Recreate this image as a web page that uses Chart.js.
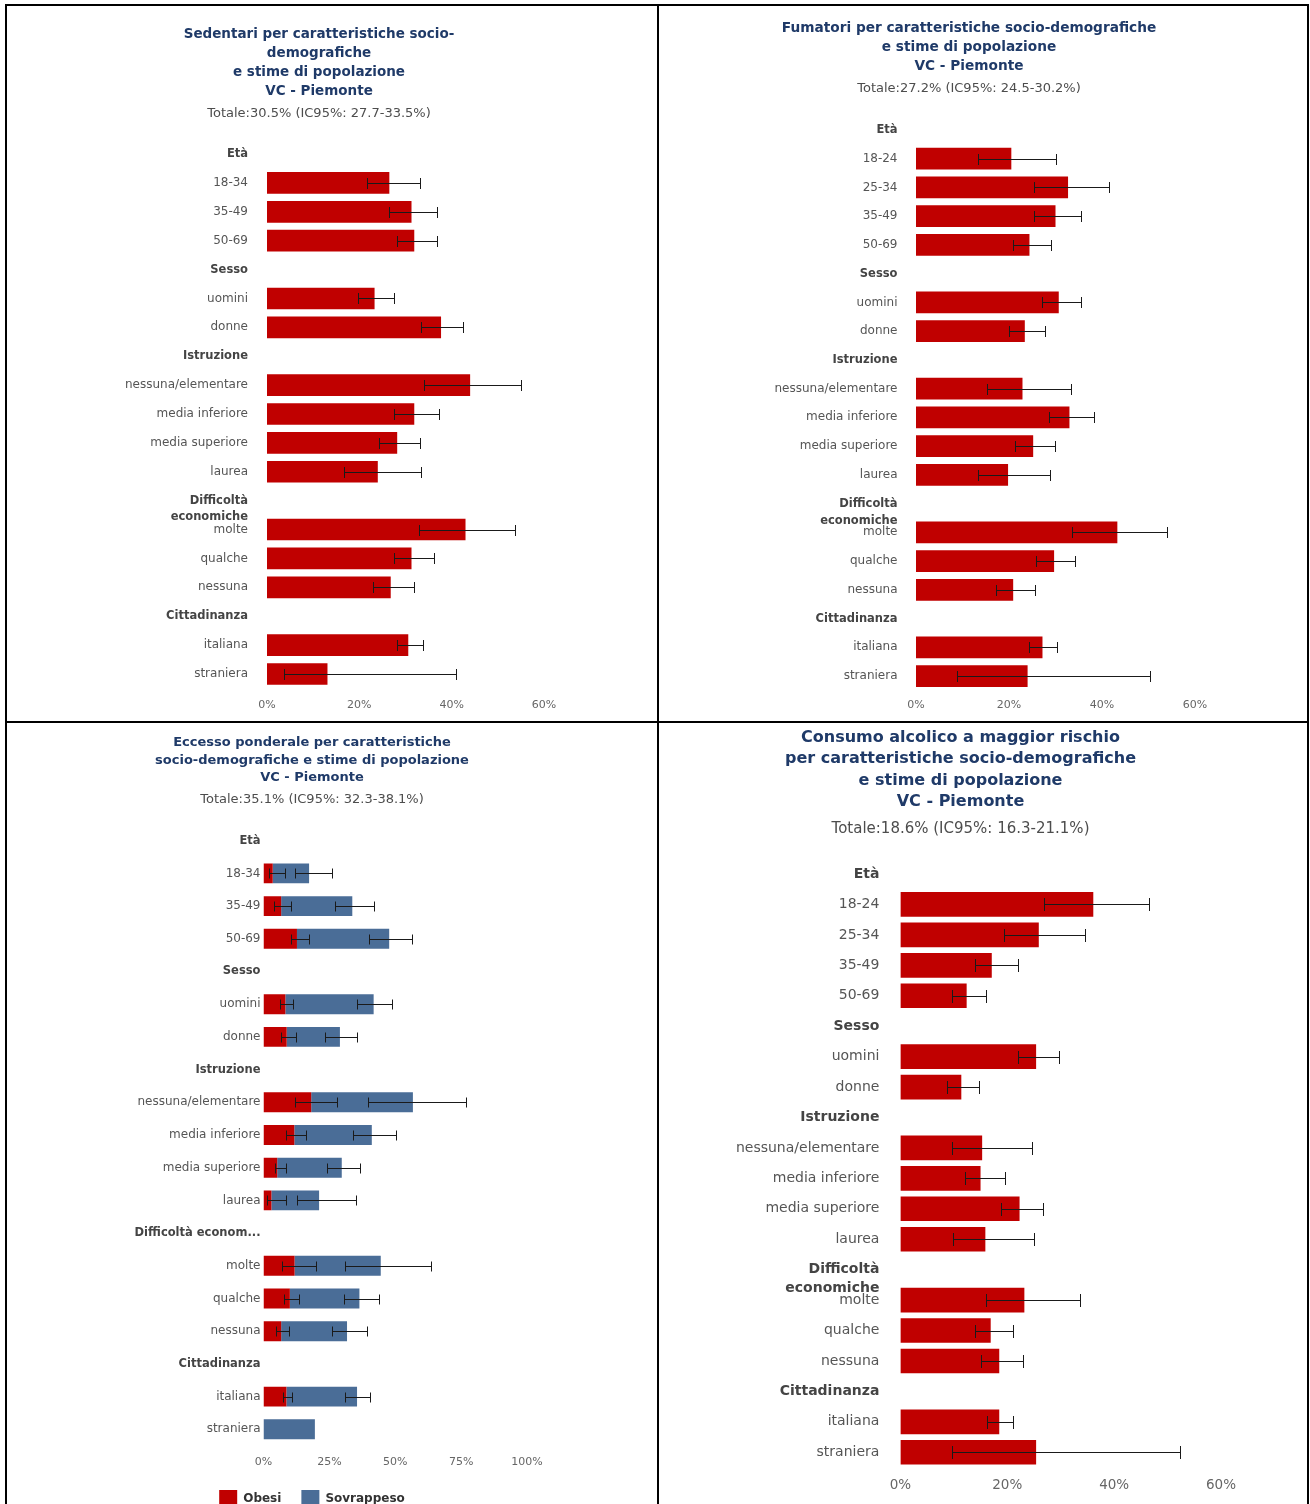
<!DOCTYPE html>
<html lang="it">
<head>
<meta charset="utf-8">
<title>Stili di vita per caratteristiche socio-demografiche - VC Piemonte</title>
<script src="https://cdn.jsdelivr.net/npm/chart.js@4.4.1/dist/chart.umd.min.js"></script>
<style>
    html, body { margin: 0; padding: 0; background: #fff; }
    body { position: relative; width: 1310px; height: 1504px; overflow: hidden; }
    canvas { position: absolute; }
    .rule { position: absolute; background: #000; }
</style>
</head>
<body>
<div class="rule" style="left:5px;top:4px;width:1304px;height:2px"></div>
<div class="rule" style="left:5px;top:4px;width:2px;height:1500px"></div>
<div class="rule" style="left:1307px;top:4px;width:2px;height:1500px"></div>
<div class="rule" style="left:657px;top:4px;width:2px;height:1500px"></div>
<div class="rule" style="left:5px;top:721px;width:1304px;height:2px"></div>

<canvas id="sedentari" style="left:94px;top:7px" width="464" height="713"></canvas>
<canvas id="fumatori" style="left:743px;top:7px" width="466" height="713"></canvas>
<canvas id="ponderale" style="left:97px;top:724px" width="446" height="794"></canvas>
<canvas id="alcol" style="left:700px;top:724px" width="539" height="780"></canvas>

<script>
Chart.defaults.font.family = "'DejaVu Sans', sans-serif";

const RED = "#c00000";
const BLUE = "#4a6d97";
const NAVY = "#1f3a68";

const groupHeads = ["Età", "Sesso", "Istruzione", "Difficoltà economiche", "Cittadinanza"];

// two age breakdowns: 18-34 for sedentari/ponderale, 18-24 + 25-34 for fumo/alcol
const catsA = [
    "Età", "18-34", "35-49", "50-69",
    "Sesso", "uomini", "donne",
    "Istruzione", "nessuna/elementare", "media inferiore", "media superiore", "laurea",
    "Difficoltà economiche", "molte", "qualche", "nessuna",
    "Cittadinanza", "italiana", "straniera"
];

const catsB = [
    "Età", "18-24", "25-34", "35-49", "50-69",
    "Sesso", "uomini", "donne",
    "Istruzione", "nessuna/elementare", "media inferiore", "media superiore", "laurea",
    "Difficoltà economiche", "molte", "qualche", "nessuna",
    "Cittadinanza", "italiana", "straniera"
];

// totale, IC95% basso, IC95% alto
const sedentariTot = [30.5, 27.7, 33.5];
const fumatoriTot = [27.2, 24.5, 30.2];
const ponderaleTot = [35.1, 32.3, 38.1];
const alcolTot = [18.6, 16.3, 21.1];

const sedentari =     [null, 26.5, 31.3, 31.9, null, 23.3, 37.7, null, 44.0, 31.9, 28.2, 24.0, null, 43.0, 31.3, 26.8, null, 30.6, 13.1];
const sedentariLow =  [null, 21.6, 26.4, 28.1, null, 19.8, 33.4, null, 34.0, 27.5, 24.3, 16.6, null, 32.9, 27.5, 23.0, null, 28.1, 3.6];
const sedentariHigh = [null, 33.1, 36.8, 36.8, null, 27.5, 42.4, null, 55.1, 37.3, 33.1, 33.4, null, 53.7, 36.1, 31.9, null, 33.8, 40.9];

const fumatori =     [null, 20.5, 32.7, 30.0, 24.4, null, 30.7, 23.4, null, 22.9, 33.0, 25.2, 19.8, null, 43.3, 29.7, 20.9, null, 27.2, 24.0];
const fumatoriLow =  [null, 13.3, 25.4, 25.4, 20.9, null, 27.1, 20.1, null, 15.3, 28.6, 21.2, 13.3, null, 33.6, 25.7, 17.3, null, 24.4, 8.8];
const fumatoriHigh = [null, 30.1, 41.6, 35.4, 29.1, null, 35.4, 27.8, null, 33.4, 38.2, 29.8, 28.8, null, 54.0, 34.1, 25.5, null, 30.3, 50.3];

const obesi =     [null, 3.5, 6.7, 12.7, null, 8.3, 8.8, null, 18.1, 11.7, 5.2, 3.0, null, 11.8, 10.0, 6.7, null, 8.7, 0];
const obesiLow =  [null, 2.0, 4.1, 10.5, null, 6.3, 6.8, null, 11.8, 8.7, 4.4, 1.4, null, 7.2, 7.6, 4.9, null, 7.3, null];
const obesiHigh = [null, 8.1, 10.3, 17.3, null, 11.3, 12.5, null, 27.9, 16.1, 8.7, 8.7, null, 20.0, 13.4, 9.8, null, 11.0, null];

const sovrappeso =     [null, 13.8, 27.0, 35.0, null, 33.5, 20.2, null, 38.6, 29.4, 24.5, 18.1, null, 32.7, 26.4, 25.0, null, 26.8, 19.5];
const sovrappesoLow =  [null, 8.4, 20.5, 27.5, null, 27.0, 14.6, null, 21.7, 22.4, 18.9, 9.9, null, 19.1, 20.6, 19.3, null, 22.4, null];
const sovrappesoHigh = [null, 22.6, 35.4, 43.5, null, 40.4, 26.5, null, 58.9, 38.4, 31.6, 32.2, null, 51.8, 33.7, 32.4, null, 31.9, null];

const alcol =     [null, 36.1, 25.9, 17.1, 12.4, null, 25.4, 11.4, null, 15.3, 15.0, 22.3, 15.9, null, 23.2, 16.9, 18.5, null, 18.5, 25.4];
const alcolLow =  [null, 26.9, 19.3, 13.9, 9.7, null, 22.0, 8.8, null, 9.6, 12.0, 18.8, 9.9, null, 16.1, 14.0, 15.0, null, 16.2, 9.7];
const alcolHigh = [null, 46.5, 34.5, 22.1, 16.1, null, 29.7, 14.8, null, 24.7, 19.5, 26.7, 25.0, null, 33.7, 21.0, 23.0, null, 21.0, 52.3];

function totalText(t)
{
    return `Totale:${t[0].toFixed(1)}% (IC95%: ${t[1].toFixed(1)}-${t[2].toFixed(1)}%)`;
}

function tickText(label, shortHead)
{
    if(label === "Difficoltà economiche")
    {
        return shortHead
            ? "Difficoltà econom..."
            : ["", "Difficoltà", "economiche"];
    }

    return label;
}

// whiskers with end caps, drawn on top of the bars
function errorBars(sets, cap)
{
    return {
        id: "errorBars",
        afterDatasetsDraw(chart)
        {
            const ctx = chart.ctx;
            const xs = chart.scales.x;
            const ys = chart.scales.y;

            ctx.save();
            ctx.strokeStyle = "#1a1a1a";
            ctx.lineWidth = 1;

            sets.forEach(set =>
            {
                set.low.forEach((lo, i) =>
                {
                    const hi = set.high[i];

                    if(lo === null || hi === null)
                    {
                        return;
                    }

                    const base = set.base ? set.base[i] : 0;
                    const x1 = Math.round(xs.getPixelForValue(base + lo)) + 0.5;
                    const x2 = Math.round(xs.getPixelForValue(base + hi)) + 0.5;
                    const y = Math.round(ys.getPixelForValue(i)) + 0.5;

                    ctx.beginPath();
                    ctx.moveTo(x1, y);
                    ctx.lineTo(x2, y);
                    ctx.moveTo(x1, y - cap / 2);
                    ctx.lineTo(x1, y + cap / 2);
                    ctx.moveTo(x2, y - cap / 2);
                    ctx.lineTo(x2, y + cap / 2);
                    ctx.stroke();
                });
            });

            ctx.restore();
        }
    };
}

function makePanel(id, p)
{
    const isHead =
        i => groupHeads.includes(p.labels[i]);

    return new Chart(
        document.getElementById(id),
        {
            type: "bar",
            data:
            {
                labels: p.labels,
                datasets: p.datasets
            },
            options:
            {
                responsive: false,
                animation: false,
                indexAxis: "y",
                layout: { padding: { right: p.padRight } },
                plugins:
                {
                    legend: p.legend || { display: false },
                    tooltip: { enabled: false },
                    title:
                    {
                        display: true,
                        text: p.title,
                        color: NAVY,
                        font: { size: p.titleSize, weight: "bold", lineHeight: p.titleLine },
                        padding: { top: p.titleTop, bottom: 0 }
                    },
                    subtitle:
                    {
                        display: true,
                        text: totalText(p.total),
                        color: "#4d4d4d",
                        font: { size: p.subSize, lineHeight: 1.2 },
                        padding: { top: p.subTop, bottom: p.subBottom }
                    }
                },
                scales:
                {
                    x:
                    {
                        min: 0,
                        max: p.max,
                        stacked: !!p.stacked,
                        grid: { display: false, drawTicks: false },
                        border: { display: false },
                        ticks:
                        {
                            stepSize: p.step,
                            color: "#666",
                            font: { size: p.axisSize },
                            padding: p.axisPad,
                            callback: v => v + "%"
                        },
                        afterFit: s =>
                        {
                            s.height = p.axisHeight;
                            s.paddingLeft = 0;
                            s.paddingRight = 0;
                        }
                    },
                    y:
                    {
                        stacked: !!p.stacked,
                        grid: { display: false, drawTicks: false },
                        border: { display: false },
                        ticks:
                        {
                            autoSkip: false,
                            padding: p.labelPad,
                            color: c => isHead(c.index) ? "#444" : "#555",
                            font: c => isHead(c.index)
                                ? { size: p.headSize, weight: "bold", lineHeight: p.headLine }
                                : { size: p.labelSize },
                            callback: function(value)
                            {
                                return tickText(this.getLabelForValue(value), p.shortHead);
                            }
                        },
                        afterFit: s =>
                        {
                            s.width = p.labelWidth;
                            s.paddingTop = 0;
                            s.paddingBottom = 0;
                        }
                    }
                }
            },
            plugins: [errorBars(p.errors, p.cap)]
        }
    );
}

makePanel("sedentari",
{
    labels: catsA,
    title: ["Sedentari per caratteristiche socio-", "demografiche", "e stime di popolazione", "VC - Piemonte"],
    total: sedentariTot,
    datasets: [
        { label: "Sedentari", data: sedentari, backgroundColor: RED, barPercentage: 0.75, categoryPercentage: 1 }
    ],
    errors: [{ low: sedentariLow, high: sedentariHigh }],
    cap: 11,
    max: 60, step: 20,
    padRight: 14, labelWidth: 173, labelPad: 19,
    titleSize: 13.5, titleLine: "19px", titleTop: 17.5,
    subSize: 13, subTop: 5.7, subBottom: 17.8,
    labelSize: 12, headSize: 11.5, headLine: "16px",
    axisSize: 11, axisPad: 10.4, axisHeight: 31.6
});

makePanel("fumatori",
{
    labels: catsB,
    title: ["Fumatori per caratteristiche socio-demografiche", "e stime di popolazione", "VC - Piemonte"],
    total: fumatoriTot,
    datasets: [
        { label: "Fumatori", data: fumatori, backgroundColor: RED, barPercentage: 0.755, categoryPercentage: 1 }
    ],
    errors: [{ low: fumatoriLow, high: fumatoriHigh }],
    cap: 11,
    max: 60, step: 20,
    padRight: 14, labelWidth: 173, labelPad: 18.5,
    titleSize: 13.7, titleLine: "19px", titleTop: 11.5,
    subSize: 13, subTop: 5.7, subBottom: 18.8,
    labelSize: 12, headSize: 11.5, headLine: "17px",
    axisSize: 11, axisPad: 8.4, axisHeight: 29.6
});

makePanel("ponderale",
{
    labels: catsA,
    title: ["Eccesso ponderale per caratteristiche", "socio-demografiche e stime di popolazione", "VC - Piemonte"],
    total: ponderaleTot,
    stacked: true,
    shortHead: true,
    datasets: [
        { label: "Obesi", data: obesi, backgroundColor: RED, barPercentage: 0.61, categoryPercentage: 1 },
        { label: "Sovrappeso", data: sovrappeso, backgroundColor: BLUE, barPercentage: 0.61, categoryPercentage: 1 }
    ],
    // the sovrappeso interval sits on top of the obesi segment
    errors: [
        { low: obesiLow, high: obesiHigh },
        { low: sovrappesoLow, high: sovrappesoHigh, base: obesi }
    ],
    cap: 10,
    max: 100, step: 25,
    padRight: 16, labelWidth: 166.5, labelPad: 3,
    titleSize: 13, titleLine: "17.5px", titleTop: 10.25,
    subSize: 13, subTop: 5.45, subBottom: 16.55,
    labelSize: 12, headSize: 11.5, headLine: "16px",
    axisSize: 11, axisPad: 9.85, axisHeight: 24.35,
    legend:
    {
        display: true,
        position: "bottom",
        labels:
        {
            boxWidth: 18,
            boxHeight: 18,
            padding: 20,
            color: "#333",
            font: { size: 12, weight: "bold" }
        }
    }
});

makePanel("alcol",
{
    labels: catsB,
    title: ["Consumo alcolico a maggior rischio", "per caratteristiche socio-demografiche", "e stime di popolazione", "VC - Piemonte"],
    total: alcolTot,
    datasets: [
        { label: "Consumo a rischio", data: alcol, backgroundColor: RED, barPercentage: 0.81, categoryPercentage: 1 }
    ],
    errors: [{ low: alcolLow, high: alcolHigh }],
    cap: 13,
    max: 60, step: 20,
    padRight: 18, labelWidth: 200.4, labelPad: 21,
    titleSize: 16, titleLine: "21.3px", titleTop: 3.35,
    subSize: 15, subTop: 7.45, subBottom: 20.78,
    labelSize: 14, headSize: 14, headLine: "18.6px",
    axisSize: 13.5, axisPad: 9.4, axisHeight: 36.5
});
</script>
</body>
</html>
